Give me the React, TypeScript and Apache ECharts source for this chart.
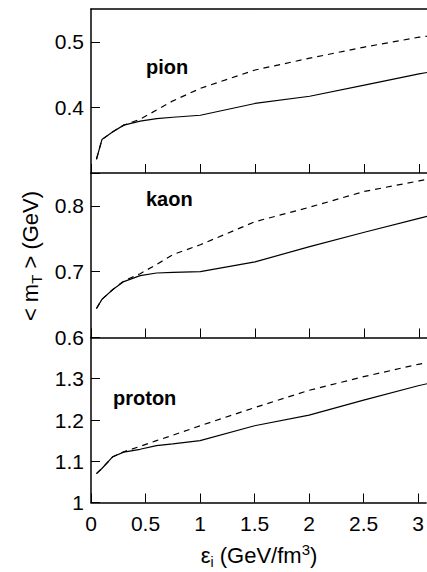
import React, { useEffect, useRef } from "react";
import * as echarts from "echarts";

const eps = [0.05, 0.1, 0.2, 0.3, 0.45, 0.6, 0.75, 1.0, 1.5, 2.0, 2.5, 3.0, 3.1];

const pionSolid = [0.321, 0.351, 0.363, 0.373, 0.379, 0.383, 0.385, 0.388, 0.406, 0.417, 0.434, 0.451, 0.454];
const pionDashed = [0.321, 0.351, 0.363, 0.373, 0.382, 0.396, 0.41, 0.429, 0.457, 0.475, 0.492, 0.507, 0.509];

const kaonSolid = [0.644, 0.658, 0.673, 0.685, 0.694, 0.698, 0.699, 0.7, 0.715, 0.738, 0.76, 0.781, 0.785];
const kaonDashed = [0.644, 0.658, 0.673, 0.686, 0.697, 0.711, 0.726, 0.741, 0.776, 0.798, 0.822, 0.838, 0.841];

const protonSolid = [1.07, 1.0825, 1.111, 1.122, 1.129, 1.138, 1.142, 1.15, 1.186, 1.212, 1.248, 1.283, 1.289];
const protonDashed = [1.07, 1.0825, 1.111, 1.123, 1.136, 1.15, 1.163, 1.186, 1.23, 1.272, 1.305, 1.335, 1.34];

const xTickLabels = ["0", "0.5", "1", "1.5", "2", "2.5", "3"];
const pionTicks = ["0.4", "0.5"];
const kaonTicks = ["0.6", "0.7", "0.8"];
const protonTicks = ["1", "1.1", "1.2", "1.3"];

const panelNames = ["pion", "kaon", "proton"];
const yRanges: [number, number][] = [
  [0.3, 0.55],
  [0.6, 0.85],
  [1.0, 1.4],
];

const FONT = "'Liberation Sans', Arial, Helvetica, sans-serif";

function pairs(xs: number[], ys: number[]) {
  return xs.map((x, i) => [x, ys[i]]);
}

export default function App() {
  const ref = useRef<HTMLDivElement>(null);
  useEffect(() => {
    if (!ref.current) return;
    const chart = echarts.init(ref.current, undefined, { renderer: "svg" });
    const grids = [
      { left: 91, right: 0, top: 9, height: 164 },
      { left: 91, right: 0, top: 173, height: 164.5 },
      { left: 91, right: 0, top: 337.5, height: 165 },
    ];
    const tickSets = [pionTicks, kaonTicks, protonTicks];
    const xAxes: any[] = grids.map((_, i) => ({
      gridIndex: i,
      type: "value",
      min: 0,
      max: 3.073,
      interval: 0.5,
      axisLine: { show: true, lineStyle: { color: "#000", width: 1.5 } },
      axisTick: { show: true, inside: true, length: 9, lineStyle: { color: "#000", width: 1 } },
      splitLine: { show: false },
      axisLabel: {
        show: i === 2,
        color: "#000",
        fontSize: 21,
        fontFamily: FONT,
        margin: 10,
        showMaxLabel: false,
        formatter: (v: number) => {
          const s = String(Math.round(v * 1000) / 1000);
          return xTickLabels.includes(s) ? s : "";
        },
      },
    }));
    xAxes.push({
      gridIndex: 0,
      type: "value",
      position: "top",
      min: 0,
      max: 3.073,
      axisLine: { show: true, lineStyle: { color: "#000", width: 1.5 } },
      axisTick: { show: false },
      axisLabel: { show: false },
      splitLine: { show: false },
    });
    const yAxes = grids.map((_, i) => ({
      gridIndex: i,
      type: "value",
      min: yRanges[i][0],
      max: yRanges[i][1],
      interval: 0.1,
      axisLine: { show: true, lineStyle: { color: "#000", width: 1.5 } },
      axisTick: { show: true, inside: true, length: 9, lineStyle: { color: "#000", width: 1 } },
      splitLine: { show: false },
      axisLabel: {
        color: "#000",
        fontSize: 21,
        fontFamily: FONT,
        margin: 7,
        showMaxLabel: false,
        formatter: (v: number) => {
          const s = String(Math.round(v * 1000) / 1000);
          return tickSets[i].includes(s) ? s : "";
        },
      },
    }));
    const sets = [
      [pionSolid, pionDashed],
      [kaonSolid, kaonDashed],
      [protonSolid, protonDashed],
    ];
    const series: any[] = [];
    sets.forEach((s, i) => {
      series.push({
        type: "line",
        xAxisIndex: i,
        yAxisIndex: i,
        data: pairs(eps, s[1]),
        showSymbol: false,
        clip: true,
        lineStyle: { color: "#000", width: 1.2, type: [6, 5] },
      });
      series.push({
        type: "line",
        xAxisIndex: i,
        yAxisIndex: i,
        data: pairs(eps, s[0]),
        showSymbol: false,
        clip: true,
        lineStyle: { color: "#000", width: 1.2, type: "solid" },
      });
    });
    const nameStyle = { fill: "#000", fontSize: 20, fontWeight: "bold", fontFamily: FONT, textVerticalAlign: "middle" };
    chart.setOption({
      animation: false,
      backgroundColor: "#fff",
      grid: grids,
      xAxis: xAxes,
      yAxis: yAxes,
      series,
      graphic: [
        { type: "text", left: 146, top: 57, style: { ...nameStyle, text: panelNames[0] } },
        { type: "text", left: 146, top: 189, style: { ...nameStyle, text: panelNames[1] } },
        { type: "text", left: 113, top: 388, style: { ...nameStyle, text: panelNames[2] } },
        {
          type: "text",
          x: 30,
          y: 256,
          rotation: Math.PI / 2,
          style: {
            text: "{n|< m}{s|T}{n| > (GeV)}",
            align: "center",
            verticalAlign: "middle",
            fill: "#000",
            fontFamily: FONT,
            rich: {
              n: { fontSize: 22, lineHeight: 27, verticalAlign: "middle", fontFamily: FONT, fill: "#000" },
              s: { fontSize: 15, lineHeight: 15, verticalAlign: "bottom", fontFamily: FONT, fill: "#000" },
            },
          },
        },
        {
          type: "text",
          x: 259,
          y: 555,
          style: {
            text: "{n|ε}{s|i}{n| (GeV/fm}{p|3}{n|)}",
            align: "center",
            verticalAlign: "middle",
            fill: "#000",
            fontFamily: FONT,
            rich: {
              n: { fontSize: 22, lineHeight: 27, verticalAlign: "middle", fontFamily: FONT, fill: "#000" },
              s: { fontSize: 14, lineHeight: 14, verticalAlign: "bottom", fontFamily: FONT, fill: "#000" },
              p: { fontSize: 15, lineHeight: 15, verticalAlign: "top", fontFamily: FONT, fill: "#000" },
            },
          },
        },
      ],
    });
    return () => chart.dispose();
  }, []);
  return (
    <div
      ref={ref}
      style={{ position: "absolute", left: 0, top: 0, width: 427, height: 572 }}
    />
  );
}
